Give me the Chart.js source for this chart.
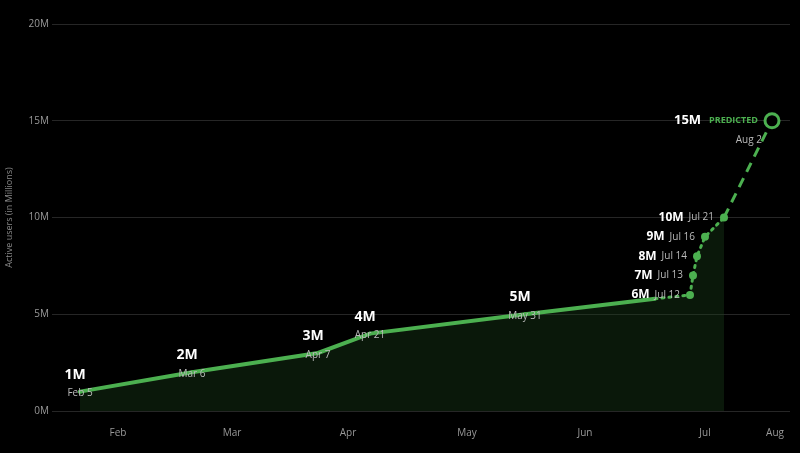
<!DOCTYPE html>
<html><head><meta charset="utf-8">
<script src="https://cdn.jsdelivr.net/npm/chart.js@4"></script>
<style>html,body{margin:0;background:#000}#w{width:800px;height:453px}</style>
</head><body><div id="w"><canvas id="c"></canvas></div>
<script>
const xPos = [80,192,318,370,525,655,690,693,697,705,724];
const users = [1,2,3,4,5,5.8,6,7,8,9,10];
const valueLabels = ['1M','2M','3M','4M','5M',null,'6M','7M','8M','9M','10M'];
const dateLabels = ['Feb 5','Mar 6','Apr 7','Apr 21','May 31',null,'Jul 12','Jul 13','Jul 14','Jul 16','Jul 21'];
const predX = [724,772];
const predUsers = [10,15];
const predLabels = ['15M','PREDICTED','Aug 2'];
const monthPos = [118,232,348,467,585,705,775];
const monthLabels = ['Feb','Mar','Apr','May','Jun','Jul','Aug'];
const G = '#4cb050';

const labelPlugin = {id:'lbl', afterDatasetsDraw(ch){
  const c=ch.ctx, xs=ch.scales.x, ys=ch.scales.y;
  c.save();
  users.forEach((v,i)=>{
    if(!valueLabels[i]) return;
    const px=xs.getPixelForValue(xPos[i]), py=ys.getPixelForValue(v);
    if(i<5){
      c.font='bold 14px "Open Sans"'; c.fillStyle='#fff'; c.textAlign='center'; c.textBaseline='middle';
      c.fillText(valueLabels[i], px-5, py-17);
      c.font='10px "Open Sans"'; c.fillStyle='#bbb';
      c.fillText(dateLabels[i], px, py+2);
    } else {
      c.textBaseline='middle'; c.textAlign='right';
      c.font='10px "Open Sans"'; c.fillStyle='#bbb';
      const dx = px-10; c.fillText(dateLabels[i], dx, py);
      const w=c.measureText(dateLabels[i]).width;
      c.font='bold 12px "Open Sans"'; c.fillStyle='#fff';
      c.fillText(valueLabels[i], dx-w-5, py);
    }
  });
  const px=xs.getPixelForValue(predX[1]), py=ys.getPixelForValue(predUsers[1]);
  c.textBaseline='middle'; c.textAlign='right';
  c.font='bold 9px "Open Sans"'; c.fillStyle=G;
  c.fillText(predLabels[1], px-14, py);
  const w=c.measureText(predLabels[1]).width;
  c.font='bold 13px "Open Sans"'; c.fillStyle='#fff';
  c.fillText(predLabels[0], px-14-w-8, py);
  c.font='10px "Open Sans"'; c.fillStyle='#bbb';
  c.fillText(predLabels[2], px-10, py+19);
  c.restore();
}};

new Chart(document.getElementById('c'), {
  type:'line',
  data:{datasets:[
    {data:xPos.map((x,i)=>({x,y:users[i]})), borderColor:G, borderWidth:4, fill:'origin',
     backgroundColor:'rgba(30,70,30,0.35)', tension:0, borderCapStyle:'round',
     pointRadius:users.map((v,i)=>i<5?2:(i===5?0:4)), pointBackgroundColor:G, pointBorderWidth:0,
     segment:{borderDash:ctx=>ctx.p0DataIndex>=5?[2,5]:undefined, borderWidth:ctx=>ctx.p0DataIndex>=5?3:4}},
    {data:predX.map((x,i)=>({x,y:predUsers[i]})), borderColor:G, borderWidth:3, borderDash:[10,7], fill:false,
     pointRadius:[0,7], pointBorderWidth:3, pointBorderColor:G, pointBackgroundColor:'#000'}
  ]},
  options:{responsive:true, maintainAspectRatio:false, animation:false,
    layout:{padding:{top:24,right:10,left:0,bottom:0}},
    plugins:{legend:{display:false}, tooltip:{enabled:false}},
    scales:{
      x:{type:'linear', min:60, max:790,
        afterBuildTicks:s=>{s.ticks=monthPos.map(v=>({value:v}));},
        afterFit:s=>{s.height=42;},
        ticks:{color:'#999', font:{size:10,family:'"Open Sans"'}, padding:8, maxRotation:0,
          callback:v=>monthLabels[monthPos.indexOf(v)]},
        grid:{display:false}, border:{display:false}},
      y:{min:0, max:20, afterFit:s=>{s.width=60;},
        ticks:{stepSize:5, color:'#999', font:{size:10,family:'"Open Sans"'}, callback:v=>v+'M'},
        grid:{color:'#262626'}, border:{display:false},
        title:{display:true, text:'Active users (in Millions)', color:'#888', font:{size:9,family:'"Open Sans"'}}}
    }},
  plugins:[labelPlugin]
});
</script></body></html>
